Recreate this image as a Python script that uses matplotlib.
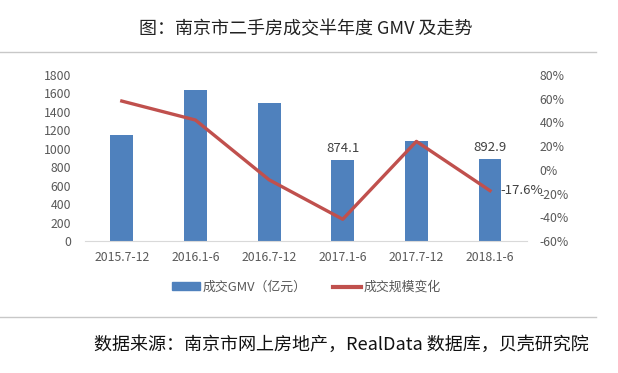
import matplotlib
matplotlib.use("Agg")
import matplotlib.pyplot as plt
from matplotlib.lines import Line2D
from matplotlib.ticker import FuncFormatter

plt.rcParams['font.family'] = ['Noto Sans CJK SC', 'DejaVu Sans']

# data
periods = ['2015.7-12', '2016.1-6', '2016.7-12', '2017.1-6', '2017.7-12', '2018.1-6']
gmv = [1150, 1637, 1500, 874.1, 1084, 892.9]
change = [0.58, 0.42, -0.084, -0.417, 0.24, -0.176]

bar_color = '#4F81BD'
line_color = '#C0504D'
tick_color = '#595959'

fig = plt.figure(figsize=(6.18, 3.73), dpi=100)
ax = fig.add_axes([0.1375, 0.354, 0.715, 0.445])

x = list(range(len(periods)))
ax.bar(x, gmv, width=0.31, color=bar_color, zorder=2)
ax.set_xlim(-0.5, len(periods) - 0.5)
ax.set_ylim(0, 1800)
ax.set_yticks(range(0, 1801, 200))
ax.set_xticks(x)
ax.set_xticklabels(periods)

for s in ['top', 'right', 'left']:
    ax.spines[s].set_visible(False)
ax.spines['bottom'].set_color('#D9D9D9')
ax.tick_params(axis='both', length=0, labelsize=8.8, colors=tick_color)
ax.tick_params(axis='x', pad=7)
ax.tick_params(axis='y', pad=10)

# labels on the two bars shown in the reference
for i in [3, 5]:
    ax.text(x[i], gmv[i] + 55, f'{gmv[i]:.1f}', ha='center', va='bottom',
            fontsize=9.5, color='#404040')

ax2 = ax.twinx()
ax2.plot(x, change, color=line_color, lw=2.4, zorder=3)
ax2.set_ylim(-0.6, 0.8)
ax2.set_yticks([-0.6, -0.4, -0.2, 0, 0.2, 0.4, 0.6, 0.8])
ax2.yaxis.set_major_formatter(FuncFormatter(lambda v, p: f'{v * 100:.0f}%'))
for s in ['top', 'right', 'left', 'bottom']:
    ax2.spines[s].set_visible(False)
ax2.tick_params(axis='y', length=0, labelsize=8.8, colors=tick_color, pad=9)
ax2.text(x[-1] + 0.14, change[-1], f'{change[-1] * 100:.1f}%', ha='left', va='center',
         fontsize=9.5, color='#404040')

# legend
handles = [plt.Rectangle((0, 0), 1, 1, color=bar_color),
           Line2D([0], [0], color=line_color, lw=3)]
fig.legend(handles, ['成交GMV（亿元）', '成交规模变化'], loc='center',
           bbox_to_anchor=(0.496, 0.23), ncol=2, frameon=False, fontsize=9.3,
           labelcolor=tick_color, handlelength=2.2, handleheight=0.5,
           handletextpad=0.2, columnspacing=2.0)

# title, source and separator lines
fig.text(0.494, 0.922, '图：南京市二手房成交半年度 GMV 及走势', ha='center', va='center',
         fontsize=13, color='#222222')
fig.add_artist(Line2D([0, 0.964], [0.861, 0.861], color='#C8C8C8', lw=1))
fig.add_artist(Line2D([0, 0.964], [0.15, 0.15], color='#C8C8C8', lw=1))
fig.text(0.152, 0.075, '数据来源：南京市网上房地产，RealData 数据库，贝壳研究院', ha='left',
         va='center', fontsize=13, color='#111111')

fig.savefig('out.png', dpi=100)
